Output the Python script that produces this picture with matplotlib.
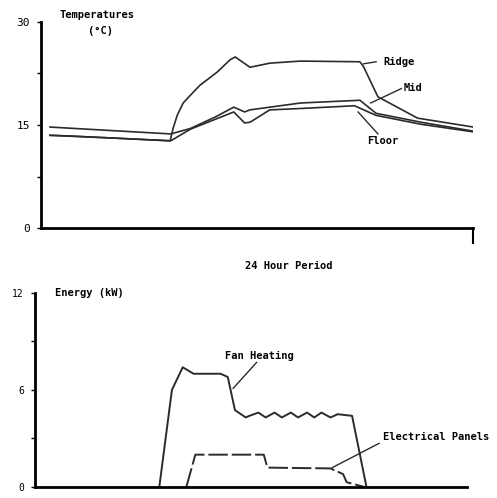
import numpy as np
import matplotlib.pyplot as plt

# temperatures (deg C) over the 24 hour period
ridge_t = [0.5, 4.0, 7.17, 7.33, 7.56, 7.89, 8.39, 8.83, 9.78, 10.5, 10.78, 11.6, 12.7,
           14.4, 17.7, 17.9, 18.7, 20.9, 24.0]
ridge_v = [13.5, 13.1, 12.7, 14.5, 16.4, 18.2, 19.6, 20.8, 22.7, 24.5, 24.9, 23.4, 24.0,
           24.3, 24.2, 23.5, 19.1, 16.0, 14.7]
mid_t = [0.5, 7.2, 8.3, 9.7, 10.7, 11.3, 11.6, 14.4, 17.7, 18.6, 21.1, 24.0]
mid_v = [14.7, 13.7, 14.5, 16.2, 17.6, 16.9, 17.2, 18.2, 18.6, 16.7, 15.4, 14.1]
floor_t = [0.5, 1.6, 7.2, 8.3, 10.7, 11.3, 11.6, 12.7, 14.4, 17.4, 18.6, 21.1, 24.0]
floor_v = [13.5, 13.4, 12.7, 14.4, 16.9, 15.3, 15.4, 17.2, 17.4, 17.8, 16.4, 15.1, 14.0]

# energy (kW)
fan_t = [6.9, 7.6, 8.2, 8.8, 10.3, 10.7, 11.1, 11.7, 11.9, 12.4, 12.8, 13.3, 13.7, 14.2,
         14.6, 15.1, 15.5, 15.9, 16.4, 16.8, 17.6, 18.4]
fan_v = [0.0, 6.0, 7.4, 7.0, 7.0, 6.8, 4.75, 4.3, 4.4, 4.6, 4.3, 4.6, 4.3, 4.6,
         4.3, 4.6, 4.3, 4.6, 4.3, 4.5, 4.4, 0.0]
elec_t = [8.4, 8.9, 12.7, 12.9, 16.4, 17.1, 17.3, 18.3]
elec_v = [0.0, 2.0, 2.0, 1.2, 1.15, 0.8, 0.3, 0.0]

mono = 'DejaVu Sans Mono'
ink = '#2b2b2b'
fs = 7.5

fig = plt.figure(figsize=(4.97, 4.98), dpi=100)

# top chart
ax1 = fig.add_axes([0.0825, 0.542, 0.87, 0.414])
ax1.plot(ridge_t, ridge_v, color=ink, lw=1.2)
ax1.plot(mid_t, mid_v, color=ink, lw=1.2)
ax1.plot(floor_t, floor_v, color=ink, lw=1.2)
ax1.set_xlim(0, 24)
ax1.set_ylim(0, 30)
ax1.set_yticks([0, 15, 30])
ax1.set_yticks([7.5, 22.5], minor=True)
ax1.set_xticks([])
ax1.tick_params(axis='y', which='both', length=3, width=1, labelsize=8, pad=5)
for lab in ax1.get_yticklabels():
    lab.set_family(mono)
for s in ['top', 'right']:
    ax1.spines[s].set_visible(False)
for s in ['left', 'bottom']:
    ax1.spines[s].set_linewidth(2)
ax1.plot([24, 24], [0, -2.2], color='black', lw=1.5, clip_on=False)
ax1.text(1.05, 31.0, 'Temperatures', family=mono, fontsize=fs, fontweight='bold', va='center')
ax1.text(2.6, 28.7, '(°C)', family=mono, fontsize=fs, fontweight='bold', va='center')
ax1.plot([17.9, 18.6], [23.9, 24.2], color=ink, lw=1)
ax1.text(19.0, 24.2, 'Ridge', family=mono, fontsize=fs, fontweight='bold', va='center')
ax1.plot([18.3, 20.0], [18.2, 20.3], color=ink, lw=1)
ax1.text(20.1, 20.4, 'Mid', family=mono, fontsize=fs, fontweight='bold', va='center')
ax1.plot([17.6, 18.7], [16.9, 13.7], color=ink, lw=1)
ax1.text(18.1, 12.7, 'Floor', family=mono, fontsize=fs, fontweight='bold', va='center')
fig.text(0.58, 0.466, '24 Hour Period', family=mono, fontsize=fs, fontweight='bold',
         ha='center', va='center')

# bottom chart
ax2 = fig.add_axes([0.0704, 0.022, 0.87, 0.39])
ax2.plot(fan_t, fan_v, color=ink, lw=1.4)
ax2.plot(elec_t, elec_v, color=ink, lw=1.4, linestyle=(0, (10, 2)))
ax2.set_xlim(0, 24)
ax2.set_ylim(0, 12)
ax2.set_yticks([0, 6, 12])
ax2.set_yticks([3, 9], minor=True)
ax2.set_xticks([])
ax2.tick_params(axis='y', which='both', length=3, width=1, labelsize=7, pad=5)
for lab in ax2.get_yticklabels():
    lab.set_family(mono)
for s in ['top', 'right']:
    ax2.spines[s].set_visible(False)
for s in ['left', 'bottom']:
    ax2.spines[s].set_linewidth(2)
ax2.text(1.1, 12.0, 'Energy (kW)', family=mono, fontsize=fs, fontweight='bold', va='center')
ax2.plot([11.0, 12.3], [6.1, 7.7], color=ink, lw=1)
ax2.text(10.55, 8.1, 'Fan Heating', family=mono, fontsize=fs, fontweight='bold', va='center')
ax2.plot([16.5, 19.1], [1.2, 2.7], color=ink, lw=1)
ax2.text(19.3, 3.1, 'Electrical Panels', family=mono, fontsize=fs, fontweight='bold',
         va='center', clip_on=False)

plt.savefig('out.png', dpi=100)
